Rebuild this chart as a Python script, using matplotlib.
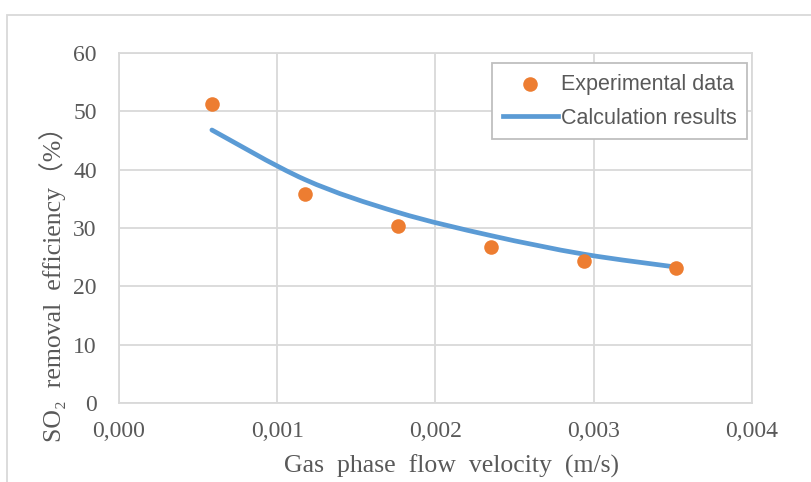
import matplotlib

matplotlib.use('Agg')
import matplotlib.pyplot as plt
import numpy as np
from matplotlib.path import Path
from matplotlib.patches import PathPatch, Rectangle
from matplotlib.ticker import FuncFormatter

# data
velocity = [0.000587, 0.001175, 0.00176, 0.00235, 0.00294, 0.00352]
experimental = [51.2, 35.8, 30.4, 26.8, 24.4, 23.2]
calculated = [46.8, 38.3, 32.7, 28.7, 25.5, 23.3]

x_ticks = [0.0, 0.001, 0.002, 0.003, 0.004]
y_ticks = [0, 10, 20, 30, 40, 50, 60]

grey_text = '#595959'
grid_col = '#d9d9d9'
orange = '#ED7D31'
blue = '#5B9BD5'
serif = ['Liberation Serif', 'Noto Sans CJK SC']

W, H = 812, 482
fig = plt.figure(figsize=(W / 100, H / 100), dpi=100)
ax = fig.add_axes([119 / W, 1 - 403 / H, (752 - 119) / W, (403 - 53) / H])

# outer chart border
fig.patches.append(Rectangle((7 / W, -0.1), 1.2, 1 - 15 / H + 0.1, transform=fig.transFigure,
                             fill=False, edgecolor=grid_col, lw=1.3))


def smooth_path(xs, ys):
    # excel style smoothed line: cubic bezier through the points
    pts = np.column_stack([xs, ys])
    verts = [pts[0]]
    codes = [Path.MOVETO]
    n = len(pts)
    for i in range(n - 1):
        p0 = pts[i - 1] if i > 0 else pts[i]
        p1 = pts[i]
        p2 = pts[i + 1]
        p3 = pts[i + 2] if i + 2 < n else pts[i + 1]
        c1 = p1 + (p2 - p0) / 6.0
        c2 = p2 - (p3 - p1) / 6.0
        verts += [c1, c2, p2]
        codes += [Path.CURVE4] * 3
    return Path(verts, codes)


ax.add_patch(PathPatch(smooth_path(velocity, calculated), facecolor='none', edgecolor=blue,
                       lw=3.4, capstyle='round', zorder=3))
ax.scatter(velocity, experimental, s=110, color=orange, zorder=4, linewidths=0)

ax.set_xlim(0, 0.004)
ax.set_ylim(0, 60)
ax.set_xticks(x_ticks)
ax.set_yticks(y_ticks)
ax.xaxis.set_major_formatter(FuncFormatter(lambda v, p: ('%.3f' % v).replace('.', ',')))
ax.grid(True, color=grid_col, lw=1.3)
ax.set_axisbelow(True)
for s in ax.spines.values():
    s.set_color(grid_col)
    s.set_linewidth(1.3)
ax.tick_params(length=0, labelcolor=grey_text)
ax.tick_params(axis='x', pad=13)
ax.tick_params(axis='y', pad=16)
for lab in ax.get_xticklabels() + ax.get_yticklabels():
    lab.set_family(serif)
    lab.set_fontsize(17)

fig.text(452 / W, 1 - 466 / H, 'Gas  phase  flow  velocity  (m/s)', ha='center', va='center',
         fontsize=18.5, color=grey_text, family=serif)
fig.text(53 / W, 1 - 278 / H, 'SO₂  removal  efficiency（%）', ha='center', va='center',
         rotation=90, fontsize=18.5, color=grey_text, family=serif)

# legend handles
h1 = ax.scatter([], [], s=110, color=orange, linewidths=0, label='Experimental data')
h2, = ax.plot([], [], color=blue, lw=3.4, label='Calculation results')
leg = ax.legend(handles=[h1, h2], loc='upper left', bbox_to_anchor=(492 / W, 1 - 63 / H),
                bbox_transform=fig.transFigure, borderaxespad=0, fancybox=False,
                edgecolor='#bfbfbf', framealpha=1, handlelength=2.55,
                handletextpad=0.15, labelspacing=0.6, borderpad=0.5,
                prop={'family': 'Liberation Sans', 'size': 15.5})
leg.get_frame().set_linewidth(1.3)
for t in leg.get_texts():
    t.set_color(grey_text)

fig.savefig('out.png', dpi=100)
